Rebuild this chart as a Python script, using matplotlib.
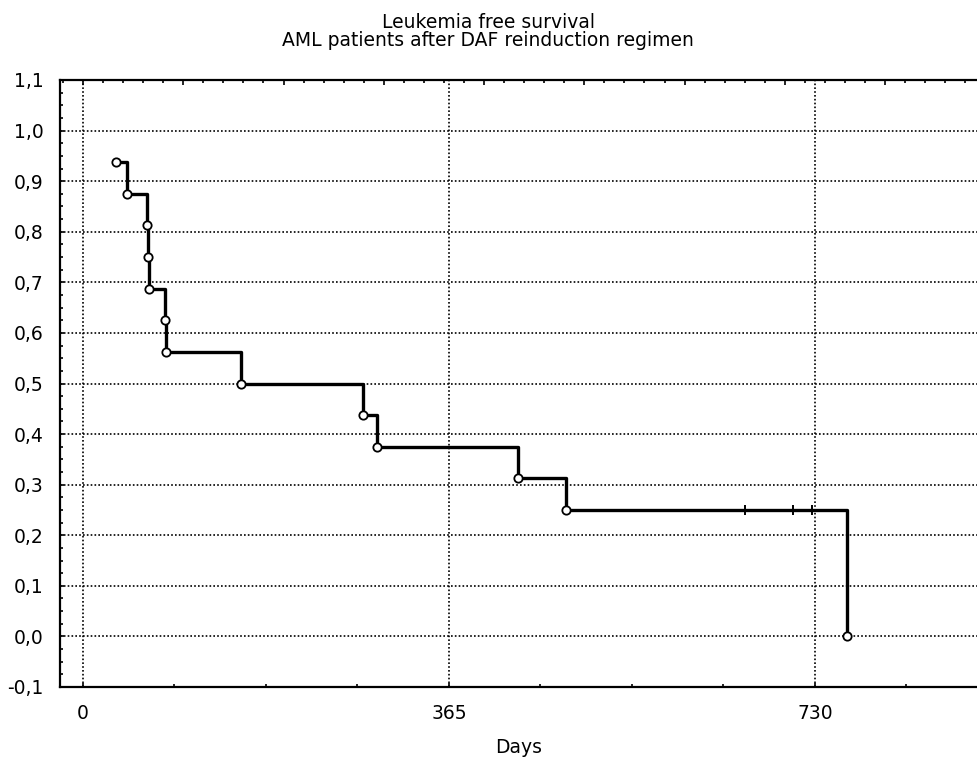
import numpy as np
import matplotlib.pyplot as plt
from matplotlib.ticker import MultipleLocator, FuncFormatter, FixedLocator

# event days and survival level after each event
event_days = [33, 44, 64, 65, 66, 82, 83, 158, 279, 293, 434, 482, 762]
surv = [0.9375, 0.875, 0.8125, 0.75, 0.6875, 0.625, 0.5625, 0.5,
        0.4375, 0.375, 0.3125, 0.25, 0.0]
# censored observations
cens_days = [660, 708, 727]
cens_surv = [0.25, 0.25, 0.25]

x_ticks = [0, 365, 730]

plt.rcParams['font.family'] = ['DejaVu Sans']
fs = 13.5

fig = plt.figure(figsize=(9.77, 7.60), dpi=100)
ax = fig.add_axes([60/977, 1-687/760, 1-60/977, (687-80)/760])

ax.plot(event_days, surv, drawstyle='steps-post', color='black', lw=2.4, zorder=3)
ax.plot(event_days, surv, 'o', ms=6, mfc='white', mec='black', mew=1.3, zorder=4)
ax.plot(cens_days, cens_surv, '|', ms=7.5, mec='black', mew=1.4, zorder=4)

ax.set_xlim(-22.9, 891.6)
ax.set_ylim(-0.1, 1.1)

ax.xaxis.set_major_locator(FixedLocator(x_ticks))
ax.xaxis.set_minor_locator(MultipleLocator(91.25))
ax.yaxis.set_major_locator(MultipleLocator(0.1))
ax.yaxis.set_minor_locator(MultipleLocator(0.025))
ax.yaxis.set_major_formatter(FuncFormatter(lambda v, p: f"{v:.1f}".replace('.', ',').replace('-0,0', '0,0')))

ax.grid(True, which='major', color='black', linestyle=(0, (1, 1.3)), lw=1.2)
ax.tick_params(which='both', direction='in', color='black', width=1.2,
               labelsize=fs, top=False, right=False)
ax.tick_params(which='major', length=3)
ax.tick_params(which='minor', length=2)
ax.tick_params(axis='y', pad=12)
ax.tick_params(axis='x', pad=12)

for s in ['left', 'bottom', 'top']:
    ax.spines[s].set_linewidth(1.6)
ax.spines['right'].set_visible(False)

# top axis: ticks every 100 days, minor every 20
top = ax.twiny()
top.set_xlim(ax.get_xlim())
top.xaxis.set_major_locator(MultipleLocator(100))
top.xaxis.set_minor_locator(MultipleLocator(20))
top.tick_params(which='both', direction='in', width=1.2, labeltop=False)
top.tick_params(which='major', length=3.5)
top.tick_params(which='minor', length=2)
for s in top.spines.values():
    s.set_visible(False)

ax.set_xlabel('Days', fontsize=fs, labelpad=11)

fig.text(488/977, 1-22/760, 'Leukemia free survival', ha='center', va='center', fontsize=fs)
fig.text(488/977, 1-41/760, 'AML patients after DAF reinduction regimen', ha='center', va='center', fontsize=fs)

fig.savefig('out.png', dpi=100)
